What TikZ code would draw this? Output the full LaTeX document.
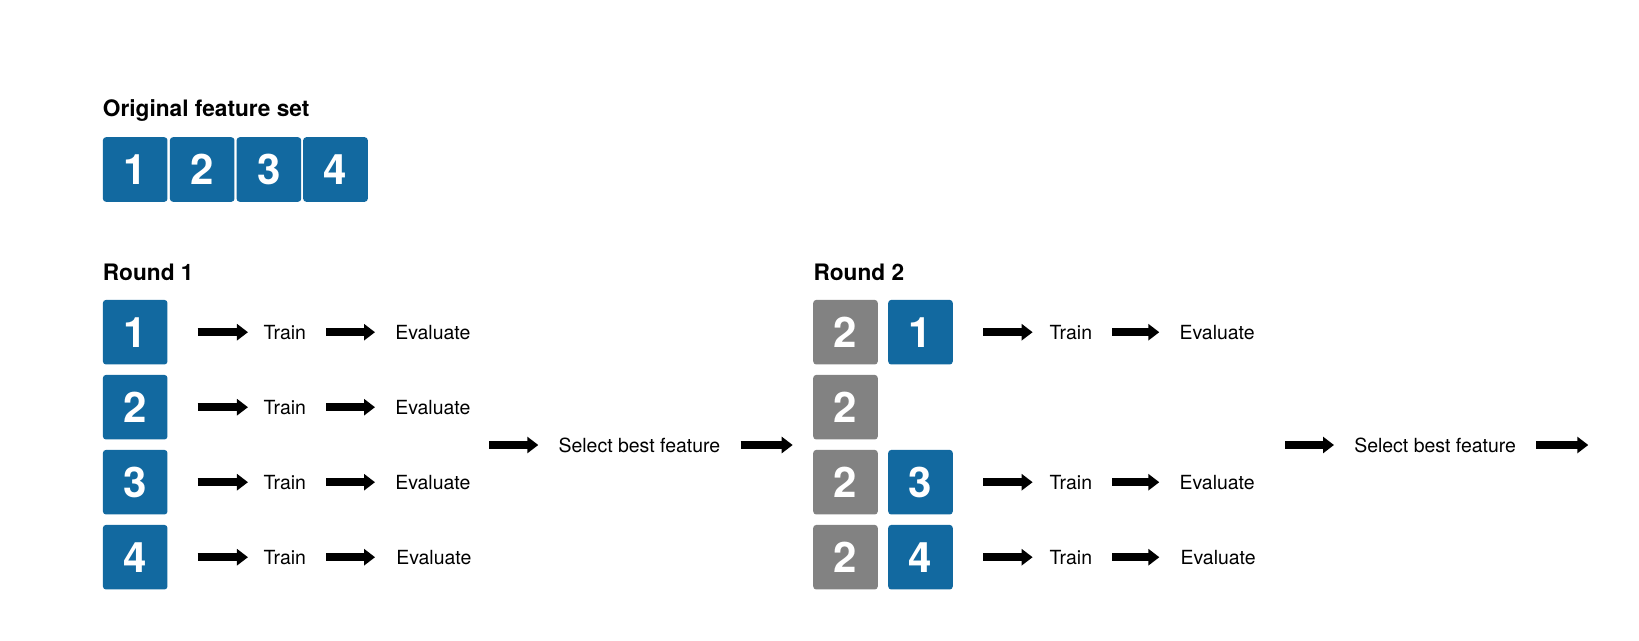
\documentclass[tikz,border=0pt]{standalone}
\usepackage{fontspec}
\setmainfont{TeX Gyre Heros}
\usepackage{xcolor}
\usepackage{tikz}
\usetikzlibrary{arrows.meta}
\definecolor{featblue}{RGB}{18,105,160}
\definecolor{featgray}{RGB}{130,130,130}

\begin{document}
\begin{tikzpicture}[x=0.75pt,y=-0.75pt]
      \tikzstyle{featbox}=[rectangle,rounded corners=2.25pt,minimum size=48.4pt,inner sep=0pt,text=white,font=\fontsize{31.5}{32}\selectfont\bfseries]
      \tikzstyle{newbox}=[featbox,fill=featblue]
      \tikzstyle{keptbox}=[featbox,fill=featgray]
      \tikzstyle{heading}=[inner sep=0pt,anchor=base west,font=\fontsize{17}{20}\selectfont\bfseries]
      \tikzstyle{stage}=[inner sep=0pt,anchor=west,font=\fontsize{14.6}{17}\selectfont]
      \tikzstyle{arr}=[-{Triangle[length=8.25pt,width=12pt]},line width=6pt]
      \useasboundingbox (0,0) rectangle (1639,640);
      % original feature set
      \node[heading] (orig) at (102.7,116.7) {Original feature set};
      \node[newbox] (o1) at (135.2,169.5) {1};
      \node[newbox] (o2) at (202.2,169.5) {2};
      \node[newbox] (o3) at (268.9,169.5) {3};
      \node[newbox] (o4) at (335.5,169.5) {4};
      % round 1
      \node[heading] (rnd1) at (102.7,280) {Round 1};
      \node[newbox] (a1) at (135.2,332.2) {1};
      \node[newbox] (a2) at (135.2,407.2) {2};
      \node[newbox] (a3) at (135.2,482.2) {3};
      \node[newbox] (a4) at (135.2,557.2) {4};
      \node[stage] (ta1) at (263.3,332.2) {Train};
      \node[stage] (ta2) at (263.3,407.2) {Train};
      \node[stage] (ta3) at (263.3,482.2) {Train};
      \node[stage] (ta4) at (263.3,557.2) {Train};
      \node[stage] (ea1) at (395,332.2) {Evaluate};
      \node[stage] (ea2) at (395,407.2) {Evaluate};
      \node[stage] (ea3) at (395,482.2) {Evaluate};
      \node[stage] (ea4) at (396,557.2) {Evaluate};
      \node[stage] (sa) at (558.3,445) {Select best feature};
      \coordinate (ina) at (489,445);
      \coordinate (outa) at (792.7,445);
      \draw[arr,shorten <=22.5pt,shorten >=11.5pt] (a1) -- (ta1);
      \draw[arr,shorten <=22.5pt,shorten >=11.5pt] (a2) -- (ta2);
      \draw[arr,shorten <=22.5pt,shorten >=11.5pt] (a3) -- (ta3);
      \draw[arr,shorten <=22.5pt,shorten >=11.5pt] (a4) -- (ta4);
      \draw[arr,shorten <=15pt,shorten >=15pt] (ta1) -- (ea1);
      \draw[arr,shorten <=15pt,shorten >=15pt] (ta2) -- (ea2);
      \draw[arr,shorten <=15pt,shorten >=15pt] (ta3) -- (ea3);
      \draw[arr,shorten <=15pt,shorten >=15.7pt] (ta4) -- (ea4);
      \draw[arr,shorten >=15pt] (ina) -- (sa);
      \draw[arr,shorten <=15pt] (sa) -- (outa);
      % round 2
      \node[heading] (rnd2) at (813.3,280) {Round 2};
      \node[keptbox] (k1) at (845.5,332.2) {2};
      \node[keptbox] (k2) at (845.5,407.2) {2};
      \node[keptbox] (k3) at (845.5,482.2) {2};
      \node[keptbox] (k4) at (845.5,557.2) {2};
      \node[newbox] (b1) at (920.5,332.2) {1};
      \node[newbox] (b3) at (920.5,482.2) {3};
      \node[newbox] (b4) at (920.5,557.2) {4};
      \node[stage] (tb1) at (1049.3,332.2) {Train};
      \node[stage] (tb3) at (1049.3,482.2) {Train};
      \node[stage] (tb4) at (1049.3,557.2) {Train};
      \node[stage] (eb1) at (1179.3,332.2) {Evaluate};
      \node[stage] (eb3) at (1179.3,482.2) {Evaluate};
      \node[stage] (eb4) at (1180.3,557.2) {Evaluate};
      \node[stage] (sb) at (1354,445) {Select best feature};
      \coordinate (inb) at (1285,445);
      \coordinate (outb) at (1588.3,445);
      \draw[arr,shorten <=22.5pt,shorten >=12.5pt] (b1) -- (tb1);
      \draw[arr,shorten <=22.5pt,shorten >=12.5pt] (b3) -- (tb3);
      \draw[arr,shorten <=22.5pt,shorten >=12.5pt] (b4) -- (tb4);
      \draw[arr,shorten <=15pt,shorten >=15pt] (tb1) -- (eb1);
      \draw[arr,shorten <=15pt,shorten >=15pt] (tb3) -- (eb3);
      \draw[arr,shorten <=15pt,shorten >=15.7pt] (tb4) -- (eb4);
      \draw[arr,shorten >=15pt] (inb) -- (sb);
      \draw[arr,shorten <=15pt] (sb) -- (outb);
    \end{tikzpicture}
\end{document}
